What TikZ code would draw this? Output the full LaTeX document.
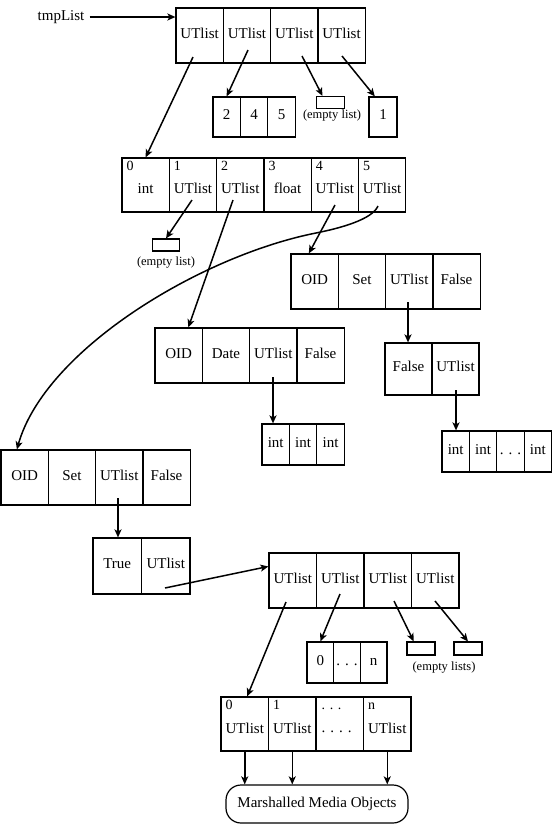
\documentclass[tikz,border=0pt]{standalone}
\usepackage{fontspec}
\setmainfont{Liberation Serif}
\usetikzlibrary{arrows.meta,calc}
\begin{document}
\begin{tikzpicture}[x=1pt,y=-1pt,
  base/.style={font=\fontsize{15}{18}\selectfont},
  cell/.style={base,draw,line width=1.2pt,inner sep=0pt,text height=10.5pt,text depth=5pt},
  big/.style={cell,minimum width=47.3pt,minimum height=55pt},
  sml/.style={cell,minimum width=27.4pt,minimum height=41pt},
  ebox/.style={draw,line width=1.2pt,inner sep=0pt,minimum width=27.5pt,minimum height=12pt},
  txt/.style={base,inner sep=0pt},
  idx/.style={font=\fontsize{14}{16}\selectfont,inner sep=0pt,anchor=base west},
  small/.style={font=\fontsize{12.5}{15}\selectfont,inner sep=0pt},
  arr/.style={line width=1.5pt,-{Stealth[length=8pt,width=7pt,inset=2pt]}},
]
\useasboundingbox (0,0) rectangle (553,825);

% tmpList and top array
\node[txt,inner xsep=5pt] (tmp) at (61,17) {tmpList};
\node[big] (T1) at (199.65,35.5) {UTlist};
\node[big] (T2) at (246.95,35.5) {UTlist};
\node[big] (T3) at (294.25,35.5) {UTlist};
\node[big] (T4) at (341.55,35.5) {UTlist};
\draw[arr] (tmp.east) -- (tmp.east -| T1.west);

% 2 4 5
\node[sml,minimum height=40pt] (B1) at (226.7,117) {2};
\node[sml,minimum height=40pt] (B2) at (254.1,117) {4};
\node[sml,minimum height=40pt] (B3) at (281.5,117) {5};
\node[ebox] (E1) at (330.5,102.5) {};
\node[small] (E1t) at (332,115.5) {(empty list)};
\node[sml,minimum width=28pt,minimum height=40pt] (One) at (383,117) {1};

\coordinate (t1s) at (193,57);
\coordinate (t2s) at (248,50);
\coordinate (t3s) at (302,56);
\coordinate (t4s) at (342,56);

% second array
\node[big,minimum height=54pt] (A0) at (145.65,185) {};
\node[big,minimum height=54pt] (A1) at (192.95,185) {};
\node[big,minimum height=54pt] (A2) at (240.25,185) {};
\node[big,minimum height=54pt] (A3) at (287.55,185) {};
\node[big,minimum height=54pt] (A4) at (334.85,185) {};
\node[big,minimum height=54pt] (A5) at (382.15,185) {};
\node[idx] (A0i) at ($(A0.north west)+(5,13.5)$) {0};
\node[idx] (A1i) at ($(A1.north west)+(5,13.5)$) {1};
\node[idx] (A2i) at ($(A2.north west)+(5,13.5)$) {2};
\node[idx] (A3i) at ($(A3.north west)+(5,13.5)$) {3};
\node[idx] (A4i) at ($(A4.north west)+(5,13.5)$) {4};
\node[idx] (A5i) at ($(A5.north west)+(5,13.5)$) {5};
\node[txt] (A0l) at ($(A0.center)+(0,3.5)$) {int};
\node[txt] (A1l) at ($(A1.center)+(0,3.5)$) {UTlist};
\node[txt] (A2l) at ($(A2.center)+(0,3.5)$) {UTlist};
\node[txt] (A3l) at ($(A3.center)+(0,3.5)$) {float};
\node[txt] (A4l) at ($(A4.center)+(0,3.5)$) {UTlist};
\node[txt] (A5l) at ($(A5.center)+(0,3.5)$) {UTlist};

\draw[arr] (t1s) -- (A0.north);
\draw[arr] (t2s) -- (B1.north);
\draw[arr] (t3s) -- ($(E1.north west)!0.22!(E1.north east)$);
\draw[arr] (t4s) -- ($(One.north west)!0.22!(One.north east)$);

\node[ebox] (E2) at (166,245) {};
\node[small] (E2t) at (166,262.5) {(empty list)};

% right OID box
\node[big] (R1) at (314.65,281.5) {OID};
\node[big] (R2) at (361.95,281.5) {Set};
\node[big] (R3) at (409.25,281.5) {UTlist};
\node[big] (R4) at (456.55,281.5) {False};

\node[big,minimum width=47pt,minimum height=52pt] (F1) at (408.5,369) {False};
\node[big,minimum width=47pt,minimum height=52pt] (F2) at (455.5,369) {UTlist};

\node[sml] (I1) at (455.7,451.5) {int};
\node[sml] (I2) at (483.1,451.5) {int};
\node[sml] (I3) at (510.5,451.5) {. . .};
\node[sml] (I4) at (537.9,451.5) {int};

% Date box
\node[big] (D1) at (178.65,355.5) {OID};
\node[big] (D2) at (225.95,355.5) {Date};
\node[big] (D3) at (273.25,355.5) {UTlist};
\node[big] (D4) at (320.55,355.5) {False};

\node[sml] (J1) at (275.7,444.5) {int};
\node[sml] (J2) at (303.1,444.5) {int};
\node[sml] (J3) at (330.5,444.5) {int};

% left OID box
\node[big] (L1) at (24.65,477.5) {OID};
\node[big] (L2) at (71.95,477.5) {Set};
\node[big] (L3) at (119.25,477.5) {UTlist};
\node[big] (L4) at (166.55,477.5) {False};

\node[big,minimum width=48.5pt,minimum height=56pt] (TU1) at (117.25,566) {True};
\node[big,minimum width=48.5pt,minimum height=56pt] (TU2) at (165.75,566) {UTlist};

% arrows from second array
\coordinate (a1s) at (192,200);
\coordinate (a2s) at (233,200);
\coordinate (a4s) at (335,205);
\coordinate (a5s) at (378,206);
\coordinate (bend) at (316,233);
\draw[arr] (a1s) -- (E2.north);
\draw[arr] (a2s) -- ($(D1.north west)!0.7!(D1.north east)$);
\draw[arr] (a4s) -- ($(R1.north west)!0.38!(R1.north east)$);
\draw[arr] (a5s) .. controls (372,220) and (338,228.6) .. (bend)
  .. controls (200,256) and (45,350) .. ($(L1.north west)!0.34!(L1.north east)$);

\coordinate (r3s) at (408,302);
\draw[arr] (r3s) -- (r3s |- F1.north);
\coordinate (f2s) at (456,390);
\draw[arr] (f2s) -- (f2s |- I1.north);
\coordinate (d3s) at (273,377);
\draw[arr] (d3s) -- (d3s |- J1.north);
\coordinate (l3s) at (118,498);
\draw[arr] (l3s) -- (l3s |- TU1.north);

% lower UTlist array
\node[big,minimum width=47.5pt] (M1) at (292.75,580.5) {UTlist};
\node[big,minimum width=47.5pt] (M2) at (340.25,580.5) {UTlist};
\node[big,minimum width=47.5pt] (M3) at (387.75,580.5) {UTlist};
\node[big,minimum width=47.5pt] (M4) at (435.25,580.5) {UTlist};

\coordinate (tu2s) at (165,588);
\draw[arr] (tu2s) -- ($(M1.north west)!0.25!(M1.south west)$);

\node[sml,minimum width=26.7pt] (Z1) at (320.35,662.5) {0};
\node[sml,minimum width=26.7pt] (Z2) at (347,662.5) {. . .};
\node[sml,minimum width=26.7pt] (Z3) at (373.65,662.5) {n};

\node[ebox,minimum width=28pt,minimum height=13pt] (EL1) at (421,648.5) {};
\node[ebox,minimum width=28pt,minimum height=13pt] (EL2) at (468,648.5) {};
\node[small] (ELt) at (444,667.5) {(empty lists)};

% bottom array
\node[big,minimum width=47.5pt,minimum height=54pt] (N1) at (244.75,724) {};
\node[big,minimum width=47.5pt,minimum height=54pt] (N2) at (292.25,724) {};
\node[big,minimum width=47.5pt,minimum height=54pt] (N3) at (339.75,724) {};
\node[big,minimum width=47.5pt,minimum height=54pt] (N4) at (387.25,724) {};
\node[idx] (N1i) at ($(N1.north west)+(5,13.5)$) {0};
\node[idx] (N2i) at ($(N2.north west)+(5,13.5)$) {1};
\node[idx] (N3i) at ($(N3.north west)+(6,13.5)$) {. . .};
\node[idx] (N4i) at ($(N4.north west)+(5,13.5)$) {n};
\node[txt] (N1l) at ($(N1.center)+(0,4)$) {UTlist};
\node[txt] (N2l) at ($(N2.center)+(0,4)$) {UTlist};
\node[txt,anchor=base west] (N3l) at ($(N3.north west)+(6,36)$) {. . . .};
\node[txt] (N4l) at ($(N4.center)+(0,4)$) {UTlist};

\coordinate (m1s) at (286,602);
\coordinate (m2s) at (340,594);
\coordinate (m3s) at (394,601);
\coordinate (m4s) at (435,601);
\draw[arr] (m1s) -- ($(N1.north west)!0.55!(N1.north east)$);
\draw[arr] (m2s) -- (Z1.north);
\draw[arr] (m3s) -- ($(EL1.north west)!0.25!(EL1.north east)$);
\draw[arr] (m4s) -- (EL2.north);

\node[base,draw,line width=1.2pt,rounded corners=15pt,minimum width=182pt,minimum height=38pt,inner sep=0pt] (MM) at (317,804) {Marshalled Media Objects};
\draw[arr] (N1.south) -- (N1.south |- MM.north);
\draw[arr] (N2.south) -- (N2.south |- MM.north);
\draw[arr] (N4.south) -- (N4.south |- MM.north);
\end{tikzpicture}
\end{document}
